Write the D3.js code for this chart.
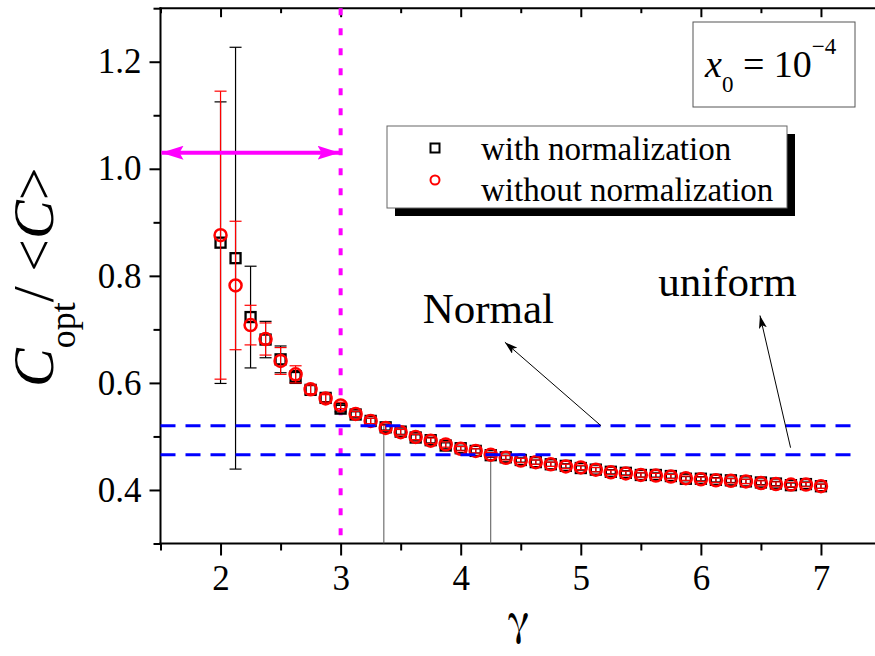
<!DOCTYPE html>
<html>
<head>
<meta charset="utf-8">
<script src="https://cdn.jsdelivr.net/npm/d3@7"></script>
<style>
  body { margin: 0; background: #fff; }
</style>
</head>
<body>
<svg id="chart" width="875" height="656"></svg>
<script>
// gamma values (x)
var gamma = [2, 2.125, 2.25, 2.375, 2.5, 2.625, 2.75, 2.875, 3, 3.125, 3.25, 3.375, 3.5, 3.625, 3.75, 3.875,
  4, 4.125, 4.25, 4.375, 4.5, 4.625, 4.75, 4.875, 5, 5.125, 5.25, 5.375, 5.5, 5.625, 5.75, 5.875,
  6, 6.125, 6.25, 6.375, 6.5, 6.625, 6.75, 6.875, 7];

// with normalization (black squares)
var withNorm = [0.862, 0.833, 0.723, 0.681, 0.644, 0.611, 0.587, 0.572, 0.552, 0.541, 0.529, 0.517, 0.509, 0.498, 0.493, 0.483,
  0.478, 0.473, 0.465, 0.461, 0.456, 0.452, 0.448, 0.445, 0.441, 0.438, 0.434, 0.432, 0.428, 0.428, 0.426, 0.421,
  0.421, 0.419, 0.418, 0.416, 0.414, 0.412, 0.409, 0.411, 0.407];
var withNormErr = [0.263, 0.394, 0.095, 0.034, 0.025, 0.012, 0.008, 0.007, 0.006, 0.005, 0.005, 0.005, 0.005, 0.005, 0.005, 0.005,
  0.004, 0.004, 0.004, 0.004, 0.004, 0.004, 0.004, 0.004, 0.004, 0.004, 0.004, 0.004, 0.004, 0.004, 0.004, 0.004,
  0.004, 0.004, 0.004, 0.004, 0.004, 0.004, 0.004, 0.004, 0.004];

// without normalization (red circles)
var withoutNorm = [0.876, 0.782, 0.708, 0.682, 0.641, 0.616, 0.588, 0.571, 0.558, 0.542, 0.529, 0.516, 0.508, 0.499, 0.492, 0.485,
  0.477, 0.473, 0.466, 0.460, 0.455, 0.452, 0.448, 0.444, 0.442, 0.438, 0.433, 0.431, 0.428, 0.427, 0.425, 0.422,
  0.420, 0.418, 0.417, 0.416, 0.413, 0.411, 0.410, 0.410, 0.407];
var withoutNormErr = [0.269, 0.120, 0.037, 0.030, 0.025, 0.016, 0.008, 0.007, 0.006, 0.005, 0.005, 0.005, 0.005, 0.005, 0.005, 0.005,
  0.004, 0.004, 0.004, 0.004, 0.004, 0.004, 0.004, 0.004, 0.004, 0.004, 0.004, 0.004, 0.004, 0.004, 0.004, 0.004,
  0.004, 0.004, 0.004, 0.004, 0.004, 0.004, 0.004, 0.004, 0.004];

// reference levels and annotations
var levels = [{name: "Normal", y: 0.520, cross: 3.36}, {name: "uniform", y: 0.466, cross: 4.25}];
var levelSpan = [1.5, 7.25];
var gammaC = 3;
var arrowLevel = 1.03;
var labels = [
  {text: "Normal", x: 3.683, y: 0.712, tail: [5.168, 0.520], tip: [4.368, 0.676]},
  {text: "uniform", x: 5.645, y: 0.763, tail: [6.747, 0.479], tip: [6.492, 0.726]}
];

var xMajor = [2, 3, 4, 5, 6, 7];
var xMinor = [1.5, 2.5, 3.5, 4.5, 5.5, 6.5, 7.5];
var yMajor = [0.4, 0.6, 0.8, 1.0, 1.2];
var yMinor = [0.3, 0.5, 0.7, 0.9, 1.1, 1.3];

var legendItems = ["with normalization", "without normalization"];

var SERIF = "'Liberation Serif', 'Times New Roman', serif";

var svg = d3.select("svg#chart");
var x = d3.scaleLinear().domain([1.5, 7.5]).range([160.5, 881]);
var y = d3.scaleLinear().domain([0.3, 1.3]).range([543.5, 8.2]);

var defs = svg.append("defs");
defs.append("marker").attr("id", "magHead")
  .attr("viewBox", "0 0 22 14").attr("refX", 22).attr("refY", 7)
  .attr("markerWidth", 22).attr("markerHeight", 14).attr("markerUnits", "userSpaceOnUse")
  .attr("orient", "auto-start-reverse")
  .append("path").attr("d", "M0,0 L22,7 L0,14 L4,7 Z").attr("fill", "#ff00ff");
defs.append("marker").attr("id", "blkHead")
  .attr("viewBox", "0 0 13 8").attr("refX", 13).attr("refY", 4)
  .attr("markerWidth", 13).attr("markerHeight", 8).attr("markerUnits", "userSpaceOnUse")
  .attr("orient", "auto")
  .append("path").attr("d", "M0,0 L13,4 L0,8 L3,4 Z").attr("fill", "#000");

function styleAxis(g) {
  g.attr("font-family", null).attr("font-size", null);
  g.select(".domain").remove();
  g.selectAll("line").attr("stroke-width", 2);
  g.selectAll("text").style("font-family", SERIF).style("font-size", "35px");
}

// axes
svg.append("g")
  .attr("transform", "translate(" + x(1.5) + ",0)")
  .call(d3.axisLeft(y).tickValues(yMajor).tickSize(11).tickPadding(8).tickFormat(d3.format(".1f")))
  .call(styleAxis);
svg.append("g")
  .attr("transform", "translate(" + x(1.5) + ",0)")
  .call(d3.axisLeft(y).tickValues(yMinor).tickSize(7).tickFormat(""))
  .call(styleAxis);

svg.append("g")
  .attr("transform", "translate(0," + y(0.3) + ")")
  .call(d3.axisBottom(x).tickValues(xMajor).tickSize(12).tickPadding(10).tickFormat(d3.format("d")))
  .call(styleAxis);
svg.append("g")
  .attr("transform", "translate(0," + y(0.3) + ")")
  .call(d3.axisBottom(x).tickValues(xMinor).tickSize(7).tickFormat(""))
  .call(styleAxis);

// top axis, ticks inward
svg.append("g")
  .attr("transform", "translate(0," + y(1.3) + ")")
  .call(d3.axisBottom(x).tickValues(xMajor).tickSize(9).tickFormat(""))
  .call(styleAxis);
svg.append("g")
  .attr("transform", "translate(0," + y(1.3) + ")")
  .call(d3.axisBottom(x).tickValues(xMinor).tickSize(5).tickFormat(""))
  .call(styleAxis);

// frame
svg.append("line").attr("x1", x(1.5)).attr("x2", x(1.5)).attr("y1", y(1.3) - 1).attr("y2", y(0.3) + 1)
  .attr("stroke", "#000").attr("stroke-width", 2);
svg.append("line").attr("x1", x(1.5) - 1).attr("x2", x(7.5)).attr("y1", y(0.3)).attr("y2", y(0.3))
  .attr("stroke", "#000").attr("stroke-width", 2);
svg.append("line").attr("x1", x(1.5) - 1).attr("x2", x(7.5)).attr("y1", y(1.3)).attr("y2", y(1.3))
  .attr("stroke", "#000").attr("stroke-width", 2);

// drop lines
svg.selectAll(".drop").data(levels).enter().append("line")
  .attr("x1", function(d) { return x(d.cross); }).attr("x2", function(d) { return x(d.cross); })
  .attr("y1", function(d) { return y(d.y); }).attr("y2", y(0.3))
  .attr("stroke", "#555").attr("stroke-width", 1);

// magenta critical line
svg.append("line")
  .attr("x1", x(gammaC)).attr("x2", x(gammaC)).attr("y1", y(1.3)).attr("y2", y(0.3))
  .attr("stroke", "#ff00ff").attr("stroke-width", 4).attr("stroke-dasharray", "7,13");

// series
function drawSeries(vals, errs, color, shape) {
  var pts = gamma.map(function(g, i) { return {x: g, y: vals[i], e: errs[i]}; });
  var g = svg.append("g");
  var eb = g.selectAll(".eb").data(pts).enter().append("g");
  eb.append("line")
    .attr("x1", function(d) { return x(d.x); }).attr("x2", function(d) { return x(d.x); })
    .attr("y1", function(d) { return y(d.y + d.e); }).attr("y2", function(d) { return y(d.y - d.e); })
    .attr("stroke", color).attr("stroke-width", 1.2);
  [1, -1].forEach(function(s) {
    eb.append("line")
      .attr("x1", function(d) { return x(d.x) - 6; }).attr("x2", function(d) { return x(d.x) + 6; })
      .attr("y1", function(d) { return y(d.y + s * d.e); }).attr("y2", function(d) { return y(d.y + s * d.e); })
      .attr("stroke", color).attr("stroke-width", 1.2);
  });
  if (shape === "square") {
    g.selectAll(".m").data(pts).enter().append("rect")
      .attr("x", function(d) { return x(d.x) - 5; }).attr("y", function(d) { return y(d.y) - 5; })
      .attr("width", 10).attr("height", 10)
      .attr("fill", "none").attr("stroke", color).attr("stroke-width", 2.3);
  } else {
    g.selectAll(".m").data(pts).enter().append("circle")
      .attr("cx", function(d) { return x(d.x); }).attr("cy", function(d) { return y(d.y); })
      .attr("r", 6)
      .attr("fill", "none").attr("stroke", color).attr("stroke-width", 2.5);
  }
}
drawSeries(withNorm, withNormErr, "#000", "square");
drawSeries(withoutNorm, withoutNormErr, "#ff0000", "circle");

// reference dashed levels
svg.selectAll(".lvl").data(levels).enter().append("line")
  .attr("x1", x(levelSpan[0])).attr("x2", x(levelSpan[1]))
  .attr("y1", function(d) { return y(d.y); }).attr("y2", function(d) { return y(d.y); })
  .attr("stroke", "#0000ff").attr("stroke-width", 3).attr("stroke-dasharray", "15,10");

svg.append("line")
  .attr("x1", x(1.5) + 1).attr("x2", x(gammaC) - 1).attr("y1", y(arrowLevel)).attr("y2", y(arrowLevel))
  .attr("stroke", "#ff00ff").attr("stroke-width", 4)
  .attr("marker-start", "url(#magHead)").attr("marker-end", "url(#magHead)");

// annotation labels and arrows
svg.selectAll(".ann").data(labels).enter().append("line")
  .attr("x1", function(d) { return x(d.tail[0]); }).attr("y1", function(d) { return y(d.tail[1]); })
  .attr("x2", function(d) { return x(d.tip[0]); }).attr("y2", function(d) { return y(d.tip[1]); })
  .attr("stroke", "#000").attr("stroke-width", 1).attr("marker-end", "url(#blkHead)");
svg.selectAll(".annt").data(labels).enter().append("text")
  .attr("x", function(d) { return x(d.x); }).attr("y", function(d) { return y(d.y); })
  .style("font-family", SERIF).style("font-size", "43px").text(function(d) { return d.text; });

// legend
var lg = svg.append("g").attr("transform", "translate(387,126)");
lg.append("rect").attr("x", 8).attr("y", 8).attr("width", 400).attr("height", 82).attr("fill", "#000");
lg.append("rect").attr("x", 0).attr("y", 0).attr("width", 400).attr("height", 82)
  .attr("fill", "#fff").attr("stroke", "#666").attr("stroke-width", 1);
lg.append("rect").attr("x", 43.5).attr("y", 17.5).attr("width", 9).attr("height", 9)
  .attr("fill", "none").attr("stroke", "#000").attr("stroke-width", 2);
lg.append("circle").attr("cx", 48).attr("cy", 54).attr("r", 4.5)
  .attr("fill", "none").attr("stroke", "#ff0000").attr("stroke-width", 2);
lg.selectAll(".lt").data(legendItems).enter().append("text")
  .attr("x", 94).attr("y", function(d, i) { return 34 + i * 41; })
  .style("font-family", SERIF).style("font-size", "33px").text(function(d) { return d; });

// inset box
var box = svg.append("g").attr("transform", "translate(693,22)");
box.append("rect").attr("width", 162).attr("height", 85)
  .attr("fill", "#fff").attr("stroke", "#555").attr("stroke-width", 1);
var bt = box.append("text").attr("x", 12).attr("y", 55)
  .style("font-family", SERIF).style("font-size", "38px");
bt.append("tspan").attr("font-style", "italic").text("x");
bt.append("tspan").style("font-size", "23px").attr("dy", 15).text("0");
bt.append("tspan").attr("dy", -15).text(" = 10");
bt.append("tspan").style("font-size", "23px").attr("dy", -23).text("\u22124");

// axis titles
svg.append("text").attr("x", 518).attr("y", 634).attr("text-anchor", "middle")
  .style("font-family", "'FreeSerif', " + SERIF).style("font-size", "44px").text("\u03b3");

var yt = svg.append("text")
  .attr("transform", "translate(53,387) rotate(-90)")
  .style("font-family", SERIF).style("font-size", "58px");
yt.append("tspan").attr("font-style", "italic").text("C");
yt.append("tspan").style("font-size", "36px").attr("dy", 22).text("opt");
yt.append("tspan").attr("dy", -22).text("/ <");
yt.append("tspan").attr("font-style", "italic").text("C");
yt.append("tspan").text(">");
</script>
</body>
</html>
